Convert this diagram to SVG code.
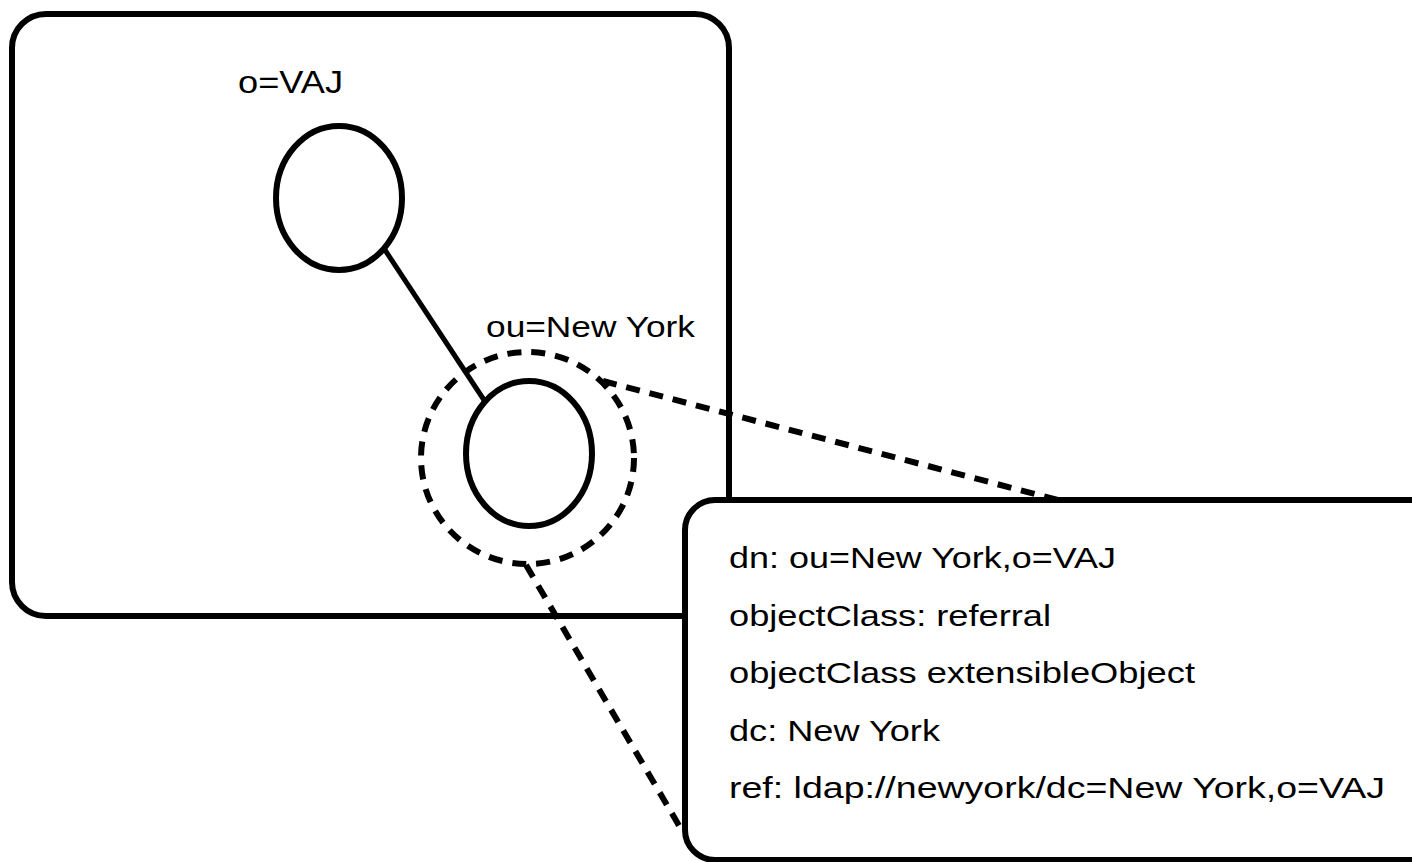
<svg xmlns="http://www.w3.org/2000/svg" width="1412" height="862" viewBox="0 0 1412 862">
  <style>
    .frame { fill: #ffffff; stroke: #000000; stroke-width: 6; }
    .node { fill: #ffffff; stroke: #000000; stroke-width: 6; }
    .halo { fill: none; stroke: #000000; stroke-width: 6; stroke-dasharray: 14 10; }
    .link { fill: none; stroke: #000000; stroke-width: 5; }
    .lead { fill: none; stroke: #000000; stroke-width: 6; stroke-dasharray: 14 10; }
    .label { font-family: "Liberation Sans", Arial, sans-serif; fill: #000000; }
  </style>

  <!-- directory server frame -->
  <g id="server">
    <rect class="frame" x="12" y="14" width="717" height="602" rx="34" ry="34"/>
  </g>

  <!-- links between entries and the zoom leads -->
  <g id="connectors">
    <line class="link" x1="385" y1="250" x2="484" y2="400"/>
    <line class="lead" x1="603" y1="381" x2="1058" y2="500"/>
    <line class="lead" x1="526" y1="565" x2="684" y2="834"/>
  </g>

  <!-- root entry -->
  <g id="node-o-vaj">
    <ellipse class="node" cx="339" cy="198" rx="63" ry="72"/>
    <text class="label" x="238" y="93" font-size="31" textLength="105" lengthAdjust="spacingAndGlyphs">o=VAJ</text>
  </g>

  <!-- referral entry -->
  <g id="node-ou-newyork">
    <ellipse class="halo" cx="527.5" cy="458" rx="106.5" ry="106"/>
    <ellipse class="node" cx="529" cy="453.5" rx="63" ry="72.5"/>
    <text class="label" x="486" y="337" font-size="30" textLength="209" lengthAdjust="spacingAndGlyphs">ou=New York</text>
  </g>

  <!-- referral entry attributes -->
  <g id="node-referral-detail">
    <rect class="frame" x="685" y="500" width="760" height="360" rx="30" ry="30"/>
    <g class="label" font-size="29">
      <text x="729" y="568" textLength="387" lengthAdjust="spacingAndGlyphs">dn: ou=New York,o=VAJ</text>
      <text x="729" y="626" textLength="322" lengthAdjust="spacingAndGlyphs">objectClass: referral</text>
      <text x="729" y="683" textLength="466" lengthAdjust="spacingAndGlyphs">objectClass extensibleObject</text>
      <text x="729" y="741" textLength="211" lengthAdjust="spacingAndGlyphs">dc: New York</text>
      <text x="729" y="798" textLength="656" lengthAdjust="spacingAndGlyphs">ref: ldap://newyork/dc=New York,o=VAJ</text>
    </g>
  </g>
</svg>
